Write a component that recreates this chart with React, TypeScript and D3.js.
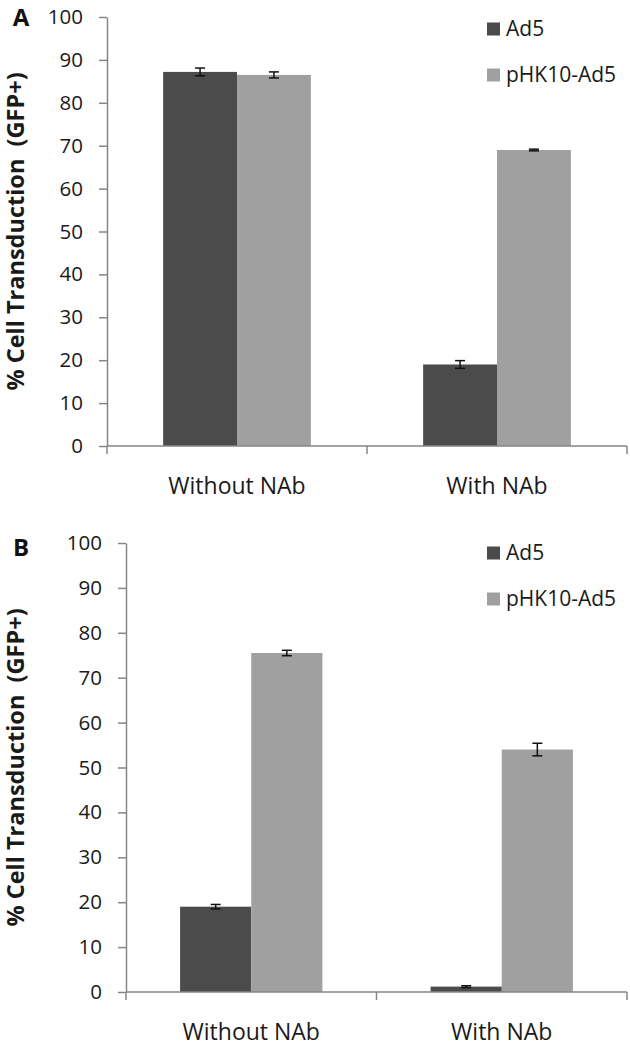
import * as d3 from "d3";
import { useEffect, useRef } from "react";

const categories = ["Without NAb", "With NAb"];
const seriesNames = ["Ad5", "pHK10-Ad5"];
const yTicks = [0, 10, 20, 30, 40, 50, 60, 70, 80, 90, 100];

// panel A
const aAd5 = [87.2, 19.0];
const aAd5Err = [0.9, 0.9];
const aPhk = [86.5, 69.0];
const aPhkErr = [0.7, 0.2];

// panel B
const bAd5 = [19.0, 1.2];
const bAd5Err = [0.5, 0.2];
const bPhk = [75.5, 54.0];
const bPhkErr = [0.6, 1.4];

const colors = ["#4b4b4b", "#a0a0a0"];
const FONT = "'Open Sans', 'Noto Sans', sans-serif";

interface Panel {
  letter: string;
  values: number[][];
  errors: number[][];
  left: number;
  right: number;
  top: number;
  bottom: number;
  legendY: number;
  letterY: number;
}

const panels: Panel[] = [
  {
    letter: "A",
    values: [aAd5, aPhk],
    errors: [aAd5Err, aPhkErr],
    left: 107,
    right: 627,
    top: 17,
    bottom: 446,
    legendY: 29,
    letterY: 18,
  },
  {
    letter: "B",
    values: [bAd5, bPhk],
    errors: [bAd5Err, bPhkErr],
    left: 126,
    right: 627,
    top: 543,
    bottom: 992,
    legendY: 553,
    letterY: 548,
  },
];

export default function App() {
  const ref = useRef<SVGSVGElement | null>(null);

  useEffect(() => {
    const svg = d3.select(ref.current);
    svg.selectAll("*").remove();

    panels.forEach((p) => {
      const g = svg.append("g");

      const y = d3.scaleLinear().domain([0, 100]).range([p.bottom, p.top]);
      const x0 = d3
        .scaleBand<string>()
        .domain(categories)
        .range([p.left, p.right])
        .paddingInner(0)
        .paddingOuter(0);
      const x1 = d3
        .scaleBand<string>()
        .domain(seriesNames)
        .range([0, x0.bandwidth()])
        .paddingInner(0)
        .paddingOuter(0.76);

      // bars
      seriesNames.forEach((s, si) => {
        g.selectAll(`rect.s${si}`)
          .data(categories)
          .enter()
          .append("rect")
          .attr("x", (c) => (x0(c) as number) + (x1(s) as number))
          .attr("y", (c, ci) => y(p.values[si][ci]))
          .attr("width", x1.bandwidth())
          .attr("height", (c, ci) => y(0) - y(p.values[si][ci]))
          .attr("fill", colors[si]);
      });

      // error bars
      seriesNames.forEach((s, si) => {
        categories.forEach((c, ci) => {
          const cx = (x0(c) as number) + (x1(s) as number) + x1.bandwidth() / 2;
          const v = p.values[si][ci];
          const e = p.errors[si][ci];
          const eg = g.append("g").attr("stroke", "#111").attr("stroke-width", 1.5);
          eg.append("line").attr("x1", cx).attr("x2", cx).attr("y1", y(v + e)).attr("y2", y(v - e));
          eg.append("line").attr("x1", cx - 5).attr("x2", cx + 5).attr("y1", y(v + e)).attr("y2", y(v + e));
          eg.append("line").attr("x1", cx - 5).attr("x2", cx + 5).attr("y1", y(v - e)).attr("y2", y(v - e));
        });
      });

      // y axis
      const yAxis = g
        .append("g")
        .attr("transform", `translate(${p.left},0)`)
        .call(d3.axisLeft(y).tickValues(yTicks).tickSize(8).tickSizeOuter(0).tickPadding(16));
      yAxis.select(".domain").attr("stroke", "#868686").attr("stroke-width", 1.5);
      yAxis.selectAll(".tick line").attr("stroke", "#868686").attr("stroke-width", 1.5);
      yAxis
        .selectAll(".tick text")
        .attr("fill", "#1a1a1a")
        .style("font-family", FONT)
        .style("font-size", "20.5px");

      // x axis
      const xg = g.append("g");
      xg.append("line")
        .attr("x1", p.left)
        .attr("x2", p.right)
        .attr("y1", y(0))
        .attr("y2", y(0))
        .attr("stroke", "#868686")
        .attr("stroke-width", 1.5);
      const bounds = categories.map((c) => x0(c) as number).concat([p.right]);
      xg.selectAll("line.xt")
        .data(bounds)
        .enter()
        .append("line")
        .attr("class", "xt")
        .attr("x1", (d) => d)
        .attr("x2", (d) => d)
        .attr("y1", y(0))
        .attr("y2", y(0) + 8)
        .attr("stroke", "#868686")
        .attr("stroke-width", 1.5);
      xg.selectAll("text")
        .data(categories)
        .enter()
        .append("text")
        .attr("x", (c) => (x0(c) as number) + x0.bandwidth() / 2)
        .attr("y", y(0) + 40)
        .attr("dy", "0.35em")
        .attr("text-anchor", "middle")
        .attr("fill", "#1a1a1a")
        .style("font-family", FONT)
        .style("font-size", "23px")
        .text((c) => c);

      // y label
      g.append("text")
        .attr("transform", `translate(16,${(p.top + p.bottom) / 2}) rotate(-90)`)
        .attr("text-anchor", "middle")
        .attr("dy", "0.35em")
        .attr("fill", "#1a1a1a")
        .style("font-family", FONT)
        .style("font-size", "23.5px")
        .style("font-weight", "bold")
        .style("white-space", "pre")
        .text("% Cell Transduction  (GFP+)");

      // panel letter
      g.append("text")
        .attr("x", 21)
        .attr("y", p.letterY)
        .attr("dy", "0.35em")
        .attr("text-anchor", "middle")
        .attr("fill", "#111")
        .style("font-family", FONT)
        .style("font-size", "24px")
        .style("font-weight", "bold")
        .text(p.letter);

      // legend
      seriesNames.forEach((s, si) => {
        const ly = p.legendY + si * 46;
        g.append("rect")
          .attr("x", 487)
          .attr("y", ly - 6.5)
          .attr("width", 13)
          .attr("height", 13)
          .attr("fill", colors[si]);
        g.append("text")
          .attr("x", 506)
          .attr("y", ly)
          .attr("dy", "0.35em")
          .attr("fill", "#1a1a1a")
          .style("font-family", FONT)
          .style("font-size", "21px")
          .text(s);
      });
    });
  }, []);

  return (
    <svg
      ref={ref}
      width={630}
      height={1050}
      style={{ position: "absolute", left: 0, top: 0, background: "#fff" }}
    ></svg>
  );
}
